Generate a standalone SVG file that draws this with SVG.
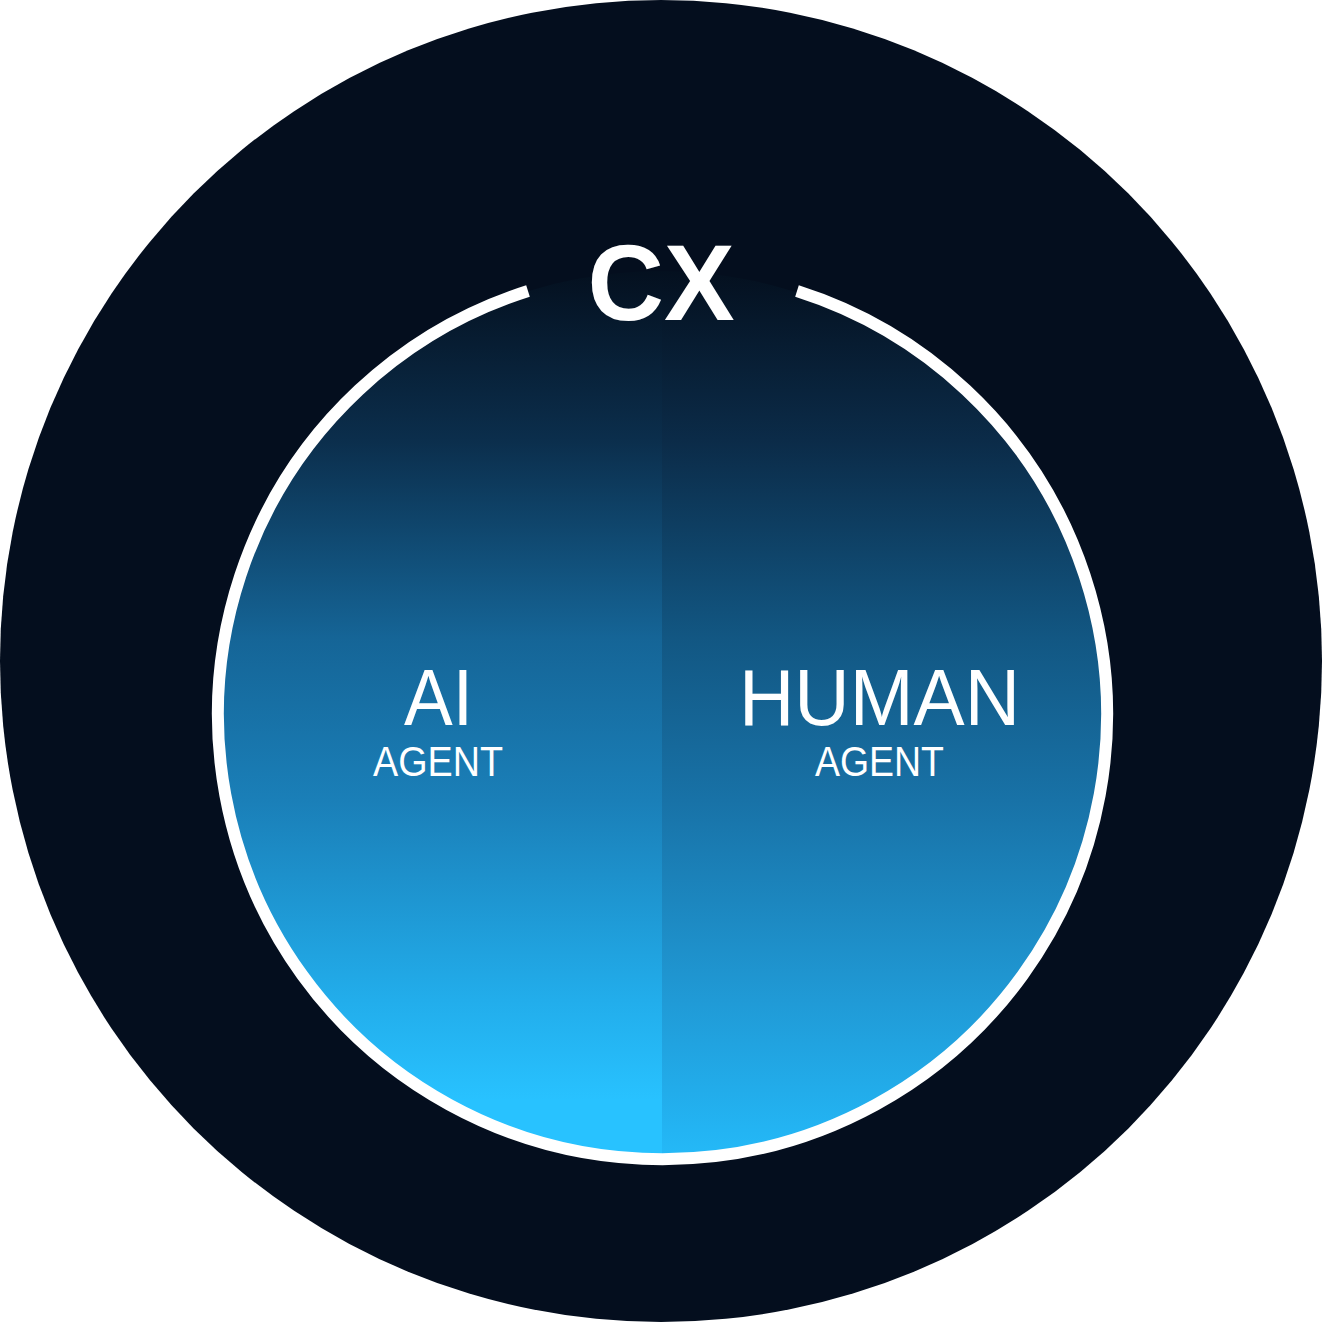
<svg xmlns="http://www.w3.org/2000/svg" width="1322" height="1322" viewBox="0 0 1322 1322">
<defs>
<linearGradient id="gl" gradientUnits="userSpaceOnUse" x1="0" y1="271" x2="0" y2="1160">
<stop offset="0" stop-color="#04101f"/>
<stop offset="0.19" stop-color="#0b2e4c"/>
<stop offset="0.414" stop-color="#156597"/>
<stop offset="0.595" stop-color="#1a7fb8"/>
<stop offset="0.82" stop-color="#22adeb"/>
<stop offset="0.933" stop-color="#28c2ff"/>
<stop offset="1" stop-color="#28c2ff"/>
</linearGradient>
<linearGradient id="gr" gradientUnits="userSpaceOnUse" x1="0" y1="271" x2="0" y2="1160">
<stop offset="0" stop-color="#04101f"/>
<stop offset="0.19" stop-color="#0b2b48"/>
<stop offset="0.414" stop-color="#125783"/>
<stop offset="0.595" stop-color="#1872a7"/>
<stop offset="0.82" stop-color="#209ad6"/>
<stop offset="0.967" stop-color="#23b4f3"/>
<stop offset="1" stop-color="#25baf8"/>
</linearGradient>
<clipPath id="inner"><circle cx="660.5" cy="715.5" r="444.5"/></clipPath>
<style>
.t{fill:#ffffff;font-family:"Liberation Sans",Arial,sans-serif;text-anchor:middle}
.big{font-size:80px}
.small{font-size:43px}
</style>
</defs>
<rect width="1322" height="1322" fill="#ffffff"/>
<g id="outer"><circle cx="661" cy="661" r="661" fill="#040e1e"/></g>
<g id="inner-circle">
<g clip-path="url(#inner)">
<rect x="210" y="265" width="452" height="900" fill="url(#gl)"/>
<rect x="662" y="265" width="452" height="900" fill="url(#gr)"/>
</g>
</g>
<g id="connectors">
<path d="M 528 291 A 444.5 444.5 0 1 0 797 291" fill="none" stroke="#ffffff" stroke-width="12"/>
</g>
<g id="cx"><text class="t" x="661" y="320" font-size="107" font-weight="bold" textLength="147" lengthAdjust="spacingAndGlyphs">CX</text></g>
<g id="ai">
<text class="t big" x="438.5" y="725" textLength="69" lengthAdjust="spacingAndGlyphs">AI</text>
<text class="t small" x="438" y="776" textLength="130" lengthAdjust="spacingAndGlyphs">AGENT</text>
</g>
<g id="human">
<text class="t big" x="879.5" y="725" textLength="281" lengthAdjust="spacingAndGlyphs">HUMAN</text>
<text class="t small" x="879.5" y="776" textLength="129" lengthAdjust="spacingAndGlyphs">AGENT</text>
</g>
</svg>
